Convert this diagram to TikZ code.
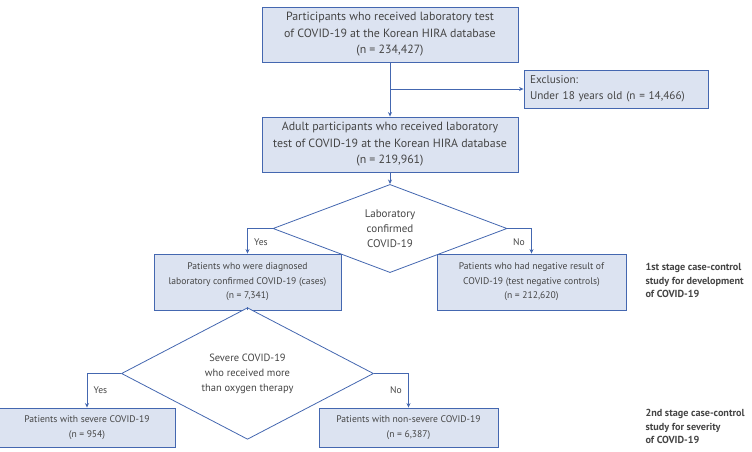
\documentclass[tikz,border=0pt]{standalone}
\usepackage{fontspec}
\setmainfont{PT Sans}
\usetikzlibrary{shapes.geometric,arrows.meta}
\definecolor{boxfill}{HTML}{DCE3F1}
\definecolor{boxline}{HTML}{4467B0}
\definecolor{txt}{HTML}{454545}
\tikzset{
  box/.style={draw=boxline, fill=boxfill, line width=0.9pt, align=center,
    text=txt, inner sep=2pt, font=\fontsize{11.9}{16.5}\selectfont},
  smallbox/.style={box, font=\fontsize{9.6}{14.5}\selectfont},
  decide/.style={diamond, draw=boxline, fill=white, line width=0.8pt,
    align=center, text=txt, inner sep=0pt},
  arr/.style={draw=boxline, line width=0.8pt, -{Stealth[length=4.5pt,width=4pt]}},
  tag/.style={text=txt, font=\fontsize{9.6}{12}\selectfont},
  stage/.style={align=left, anchor=north west, text=txt,
    font=\fontsize{10.2}{13.5}\selectfont\bfseries}
}
\begin{document}
\begin{tikzpicture}[x=1pt, y=-1pt]
  \useasboundingbox (0,0) rectangle (752,451);
  \clip (0,0) rectangle (752,451);
  % 上部方框
  \node[box, minimum width=256pt, minimum height=55pt] (all) at (390,34.5)
    {Participants who received laboratory test\\of COVID-19 at the Korean HIRA database\\(n = 234,427)};
  \node[box, minimum width=184pt, minimum height=38pt, align=left,
        text width=172pt, font=\fontsize{11.2}{16}\selectfont] (excl) at (616,89)
    {Exclusion:\\Under 18 years old (n = 14,466)};
  \node[box, minimum width=256pt, minimum height=55pt] (adult) at (390,144.5)
    {Adult participants who received laboratory\\test of COVID-19 at the Korean HIRA database\\(n = 219,961)};
  % 第一个判断
  \node[decide, minimum width=234pt, minimum height=60pt,
        font=\fontsize{11}{15}\selectfont] (lab) at (390,228.5)
    {Laboratory\\confirmed\\COVID-19};
  \node[smallbox, minimum width=187pt, minimum height=56pt] (cases) at (247.5,282)
    {Patients who were diagnosed\\laboratory confirmed COVID-19 (cases)\\(n = 7,341)};
  \node[smallbox, minimum width=189pt, minimum height=56pt] (ctrl) at (531.5,282)
    {Patients who had negative result of\\COVID-19 (test negative controls)\\(n = 212,620)};
  % 第二个判断
  \node[decide, minimum width=252pt, minimum height=76pt,
        font=\fontsize{10.5}{15}\selectfont] (sev) at (247.5,373.5)
    {Severe COVID-19\\who received more\\than oxygen therapy};
  \node[smallbox, minimum width=176pt, minimum height=39pt] (severe) at (87,427.5)
    {Patients with severe COVID-19\\(n = 954)};
  \node[smallbox, minimum width=179pt, minimum height=39pt] (nonsev) at (408.5,427.5)
    {Patients with non-severe COVID-19\\(n = 6,387)};
  % 连线
  \draw[arr] (all.south) -- (adult.north);
  \draw[arr] (all.south |- excl.west) -- (excl.west);
  \draw[arr] (adult.south) -- (lab.north);
  \draw[arr] (lab.west) -| node[tag, pos=0.78, right=3pt] {Yes} (cases.north);
  \draw[arr] (lab.east) -| node[tag, pos=0.78, left=3pt] {No} (ctrl.north);
  \draw[boxline, line width=0.8pt] (cases.south) -- (sev.north);
  \draw[arr] (sev.west) -| node[tag, pos=0.75, right=3pt] {Yes} (severe.north);
  \draw[arr] (sev.east) -| node[tag, pos=0.75, left=3pt] {No} (nonsev.north);
  % 阶段说明
  \node[stage] (stage1) at (642,260) {1st stage case-control\\study for development\\of COVID-19};
  \node[stage] (stage2) at (642,406) {2nd stage case-control\\study for severity\\of COVID-19};
\end{tikzpicture}
\end{document}
